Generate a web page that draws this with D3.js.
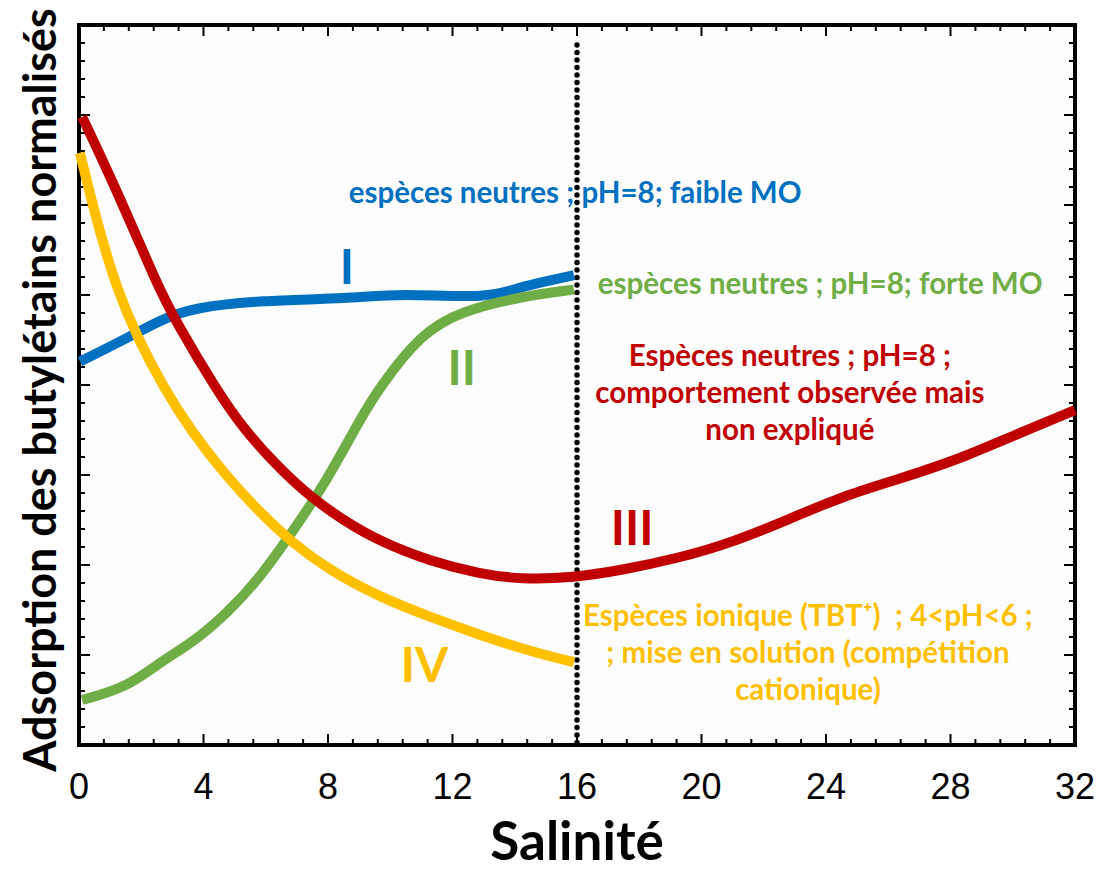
<!DOCTYPE html>
<html>
<head>
<meta charset="utf-8">
<script src="https://cdn.jsdelivr.net/npm/d3@7"></script>
<style>
  body { margin: 0; background: #fff; }
  text { font-family: Lato, "Open Sans", sans-serif; }
</style>
</head>
<body>
<div id="canvas"></div>
<script>
"use strict"

/* Drawing configuration */
let svgWidth = 1105;
let svgHeight = 872;
let plot = { left: 79, right: 1075, top: 25, bottom: 745 };

/* Data (salinity, normalised adsorption on a 0-40 scale) */
let xTicks = [0, 4, 8, 12, 16, 20, 24, 28, 32];

let curveI = [[0.03, 21.3], [1.54, 22.6], [2.6, 23.6], [3.66, 24.3], [5.82, 24.7], [8.7, 24.8],
    [10.3, 25.1], [13.1, 24.8], [14.1, 25.4], [15.1, 25.8], [15.9, 26.1]];
let curveII = [[0.1, 2.5], [1.54, 3.2], [2.6, 4.6], [3.66, 5.7], [4.75, 7.3], [5.82, 9.3],
    [6.88, 11.9], [7.97, 14.7], [9.03, 18.1], [9.67, 19.9], [10.96, 22.8], [12.24, 24.1],
    [14.17, 24.9], [15.9, 25.3]];
let curveIII = [[0.1, 34.9], [1.22, 30.8], [2.5, 25.6], [3.15, 23.4], [4.43, 19.7], [5.27, 17.6],
    [6.36, 15.5], [7.42, 13.8], [8.48, 12.5], [9.67, 11.3], [11.3, 10.2], [12.9, 9.5],
    [14.2, 9.2], [15.9, 9.3], [17.4, 9.7], [19.3, 10.4], [20.9, 11.2], [22.9, 12.6],
    [24.5, 13.8], [26.4, 14.8], [28.3, 15.9], [29.9, 17.1], [32, 18.6]];
let curveIV = [[0.03, 32.9], [0.58, 29.0], [1.22, 25.3], [1.86, 22.7], [2.7, 19.9], [3.66, 17.3],
    [4.75, 14.9], [5.82, 12.9], [6.88, 11.2], [7.97, 9.8], [9.67, 8.2], [11.3, 7.1],
    [12.9, 6.1], [14.5, 5.2], [15.9, 4.6]];

let series = [
    { name: "I", color: "#0070c0", points: curveI },
    { name: "II", color: "#70ad47", points: curveII },
    { name: "IV", color: "#ffc000", points: curveIV },
    { name: "III", color: "#c00000", points: curveIII }
];

/* Curve numerals: label, salinity, adsorption, colour */
let numerals = [
    ["I", 8.61, 25.6, "#0070c0"],
    ["II", 12.3, 20.0, "#70ad47"],
    ["III", 17.77, 11.1, "#c00000"],
    ["IV", 11.1, 3.5, "#ffc000"]
];

/* Annotation text blocks */
let notes = [
    { lines: ["espèces neutres ; pH=8; faible MO"], x: 15.94, y: 30.1, anchor: "middle", color: "#0070c0" },
    { lines: ["espèces neutres ; pH=8; forte MO"], x: 16.67, y: 25.06, anchor: "start", color: "#70ad47" },
    { lines: ["Espèces neutres ; pH=8 ;", "comportement observée mais", "non expliqué"],
        x: 22.84, y: 21.06, anchor: "middle", color: "#c00000" },
    { lines: ["Espèces ionique (TBT⁺)  ; 4<pH<6 ;", "; mise en solution (compétition", "cationique)"],
        x: 23.42, y: 6.61, anchor: "middle", color: "#ffc000" }
];

let svg = d3.select("#canvas")
    .append("svg")
    .attr("width", svgWidth)
    .attr("height", svgHeight);

/* Scales */
let xScale = d3.scaleLinear()
    .domain([0, 32])
    .range([plot.left, plot.right]);

let yScale = d3.scaleLinear()
    .domain([0, 40])
    .range([plot.bottom, plot.top]);

/* Plot background */
svg.append("rect")
    .attr("x", plot.left)
    .attr("y", plot.top)
    .attr("width", plot.right - plot.left)
    .attr("height", plot.bottom - plot.top)
    .attr("fill", "#fdfdfd");

/* Ticks on all four sides, pointing inward */
let xMinor = d3.range(0, 32.01, 0.8);
let yMinor = d3.range(0, 40.01, 1);

function tickLen(v, step) {
    return Math.abs(v / step - Math.round(v / step)) < 1e-6 ? 11 : 6;
}

let tickGroup = svg.append("g")
    .attr("stroke", "black")
    .attr("stroke-width", 2);

xMinor.forEach(function (v) {
    let len = tickLen(v, 4);
    tickGroup.append("line")
        .attr("x1", xScale(v)).attr("x2", xScale(v))
        .attr("y1", plot.bottom).attr("y2", plot.bottom - len);
    tickGroup.append("line")
        .attr("x1", xScale(v)).attr("x2", xScale(v))
        .attr("y1", plot.top).attr("y2", plot.top + len);
});

yMinor.forEach(function (v) {
    let len = tickLen(v, 5);
    tickGroup.append("line")
        .attr("x1", plot.left).attr("x2", plot.left + len)
        .attr("y1", yScale(v)).attr("y2", yScale(v));
    tickGroup.append("line")
        .attr("x1", plot.right).attr("x2", plot.right - len)
        .attr("y1", yScale(v)).attr("y2", yScale(v));
});

/* Frame */
svg.append("rect")
    .attr("x", plot.left)
    .attr("y", plot.top)
    .attr("width", plot.right - plot.left)
    .attr("height", plot.bottom - plot.top)
    .attr("fill", "none")
    .attr("stroke", "black")
    .attr("stroke-width", 4);

/* X tick labels */
svg.append("g")
    .selectAll("text")
    .data(xTicks)
    .join("text")
    .attr("x", d => xScale(d))
    .attr("y", 799)
    .attr("text-anchor", "middle")
    .style("font-family", "'Liberation Sans', Arial, sans-serif")
    .style("font-size", "36px")
    .text(d => d);

/* Dotted separator at salinity 16 */
svg.append("line")
    .attr("x1", xScale(16)).attr("x2", xScale(16))
    .attr("y1", plot.top + 20).attr("y2", plot.bottom)
    .attr("stroke", "black")
    .attr("stroke-width", 5.5)
    .attr("stroke-linecap", "round")
    .attr("stroke-dasharray", "0,7.5");

/* Curves, smoothed */
let line = d3.line()
    .x(d => xScale(d[0]))
    .y(d => yScale(d[1]))
    .curve(d3.curveBasis);

svg.append("g")
    .selectAll("path")
    .data(series)
    .join("path")
    .attr("d", d => line(d.points))
    .attr("fill", "none")
    .attr("stroke", d => d.color)
    .attr("stroke-width", 10)
    .attr("stroke-linecap", "butt");

/* Curve numerals */
svg.append("g")
    .selectAll("text")
    .data(numerals)
    .join("text")
    .attr("x", d => xScale(d[1]))
    .attr("y", d => yScale(d[2]))
    .attr("text-anchor", "middle")
    .attr("fill", d => d[3])
    .style("font-size", "48px")
    .style("font-weight", "bold")
    .text(d => d[0]);

/* Annotations */
notes.forEach(function (n) {
    let t = svg.append("text")
        .attr("text-anchor", n.anchor)
        .attr("fill", n.color)
        .style("font-size", "29.5px")
        .style("font-weight", "bold")
        .style("white-space", "pre");
    n.lines.forEach(function (s, i) {
        t.append("tspan")
            .attr("x", xScale(n.x))
            .attr("y", yScale(n.y) + i * 37)
            .text(s);
    });
});

/* Axis titles */
svg.append("text")
    .attr("x", xScale(16))
    .attr("y", 860)
    .attr("text-anchor", "middle")
    .style("font-size", "53px")
    .style("font-weight", "bold")
    .text("Salinité");

svg.append("text")
    .attr("transform", "translate(56,390) rotate(-90)")
    .attr("text-anchor", "middle")
    .style("font-size", "45px")
    .style("font-weight", "bold")
    .text("Adsorption des butylétains normalisés");
</script>
</body>
</html>
